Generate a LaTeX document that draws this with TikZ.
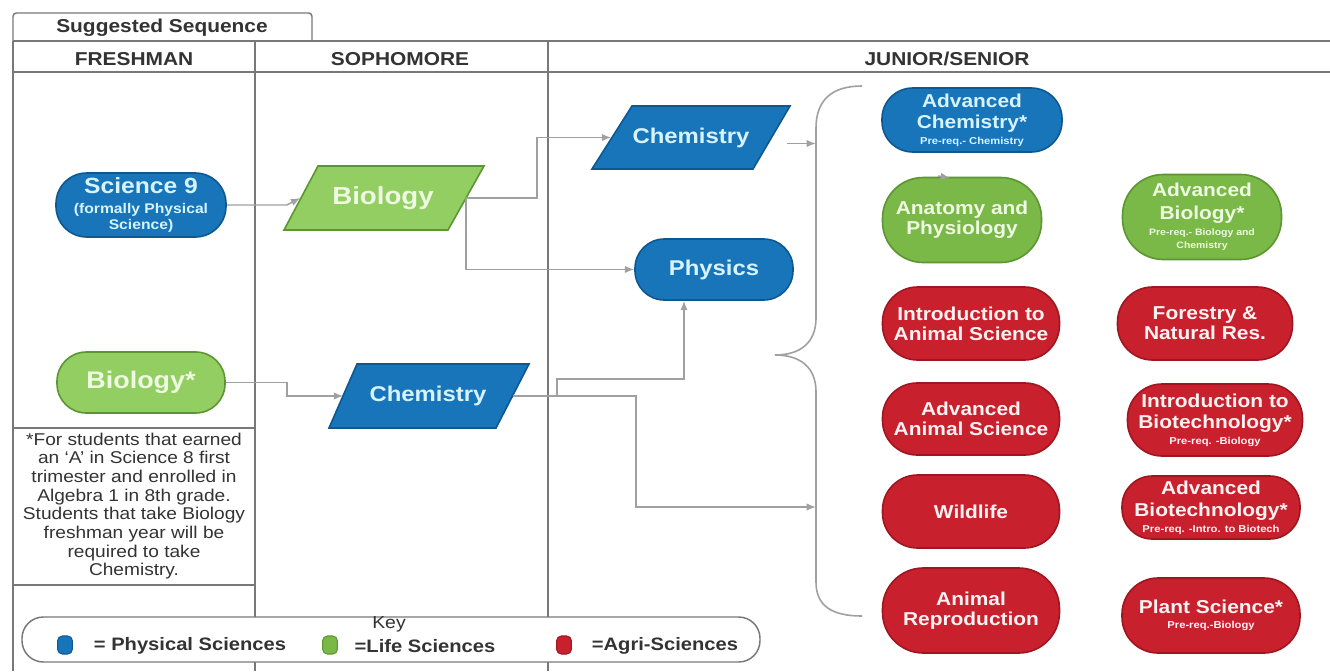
\documentclass[tikz,border=0pt]{standalone}
\usepackage{fontspec}
\setmainfont{Liberation Sans}[FakeStretch=1.12]
\usetikzlibrary{arrows.meta,calc}
\definecolor{cblue}{RGB}{24,117,186}
\definecolor{cblueD}{RGB}{14,88,146}
\definecolor{cbluetxt}{RGB}{215,243,255}
\definecolor{cgreen}{RGB}{122,184,72}
\definecolor{cgreenD}{RGB}{92,150,50}
\definecolor{clgreen}{RGB}{146,206,98}
\definecolor{cgreentxt}{RGB}{238,250,226}
\definecolor{cred}{RGB}{200,32,45}
\definecolor{credD}{RGB}{160,22,32}
\definecolor{credtxt}{RGB}{255,242,242}
\definecolor{cline}{RGB}{120,120,120}
\definecolor{cconn}{RGB}{160,160,160}
\definecolor{ctext}{RGB}{51,51,51}
\begin{document}
\begin{tikzpicture}[x=0.75pt,y=-0.75pt,
  sz/.style 2 args={minimum width=#1*0.75pt,minimum height=#2*0.75pt},
  pill/.style 2 args={draw,line width=1.2pt,inner sep=0pt,align=center,
     minimum width=#1*0.75pt,minimum height=#2*0.75pt,rounded corners=#2*0.36pt},
  bluepill/.style={fill=cblue,draw=cblueD,text=cbluetxt},
  greenpill/.style={fill=cgreen,draw=cgreenD,text=cgreentxt},
  lgreenpill/.style={fill=clgreen,draw=cgreenD,text=cgreentxt},
  redpill/.style={fill=cred,draw=credD,text=credtxt},
  pfont/.style={font=\bfseries\fontsize{14}{15}\selectfont},
  bigfont/.style={font=\bfseries\fontsize{16}{18}\selectfont},
  ptxt/.style={inner sep=0pt,align=center},
  hdr/.style={font=\bfseries\fontsize{14}{16}\selectfont,text=ctext,inner sep=0pt},
  frame/.style={draw=cline,line width=1.1pt},
  conn/.style={draw=cconn,line width=1.1pt,-{Latex[length=7pt,width=5.5pt]}},
  bracestyle/.style={draw=cconn,line width=1.2pt},
  swatch/.style={line width=0.8pt,rounded corners=3.5pt,minimum width=11pt,minimum height=13.5pt,inner sep=0pt},
  keytxt/.style={font=\bfseries\fontsize{13.5}{15}\selectfont,text=ctext,inner sep=0pt}
]
\fill[white] (0,0) rectangle (1330,671);
\useasboundingbox (0,0) rectangle (1330,671);

% ---- table frame
\draw[frame,rounded corners=2.5pt] (13,41) -- (13,13) -- (312,13) -- (312,41);
\draw[frame] (13,41) -- (1330,41);
\draw[frame] (13,72) -- (1330,72);
\draw[frame] (13,41) -- (13,671);
\draw[frame] (255,41) -- (255,671);
\draw[frame] (548,41) -- (548,671);
\draw[frame] (13,428) -- (255,428);
\draw[frame] (13,585) -- (255,585);

\node[hdr] (hs) at (162,28) {Suggested Sequence};
\node[hdr] (h1) at (134,59) {FRESHMAN};
\node[hdr] (h2) at (400,59) {SOPHOMORE};
\node[hdr] (h3) at (947,59) {JUNIOR/SENIOR};

% ---- freshman
\node[pill={170}{64},bluepill] (sci9) at (141,205)
  {{\fontsize{16.5}{18}\selectfont\bfseries Science 9}\\[3pt]
   {\fontsize{10.5}{12}\selectfont\bfseries (formally Physical}\\[-0.5pt]
   {\fontsize{10.5}{12}\selectfont\bfseries Science)}};
\node[pill={168}{61},lgreenpill,font=\bfseries\fontsize{18}{20}\selectfont] (bioS) at (141,382.5) {Biology*};

\node[align=center,inner sep=0pt,text=ctext,font=\fontsize{12.8}{14}\selectfont] (note) at (134,506)
  {*For students that earned\\an `A' in Science 8 first\\trimester and enrolled in\\Algebra 1 in 8th grade.\\Students that take Biology\\freshman year will be\\required to take\\Chemistry.};

% ---- sophomore (parallelograms)
\filldraw[fill=clgreen,draw=cgreenD,line width=1.2pt] (318,166) -- (484,166) -- (448,230) -- (284,230) -- cycle;
\node[ptxt,sz={165}{64},text=cgreentxt,font=\bfseries\fontsize{18.5}{20}\selectfont] (bio) at (383,198) {Biology};
\filldraw[fill=cblue,draw=cblueD,line width=1.2pt] (357,364) -- (529,364) -- (496,428) -- (329,428) -- cycle;
\node[ptxt,sz={169}{64},text=cbluetxt,bigfont] (chemS) at (428,396) {Chemistry};

% ---- junior/senior left
\filldraw[fill=cblue,draw=cblueD,line width=1.2pt] (632,106) -- (790,106) -- (753,169) -- (592,169) -- cycle;
\node[ptxt,sz={159}{63},text=cbluetxt,bigfont] (chemJ) at (691,137.5) {Chemistry};
\node[pill={158}{61},bluepill,bigfont] (phys) at (714,269.5) {Physics};

% ---- junior/senior courses
\node[pill={180}{64},bluepill,pfont] (advchem) at (972,120)
  {Advanced\\[1pt]Chemistry*\\[-3pt]{\fontsize{7.5}{8}\selectfont Pre-req.- Chemistry}};
\node[pill={159}{85},greenpill,pfont] (anat) at (962,220) {Anatomy and\\Physiology};
\node[pill={159}{85},greenpill,pfont] (advbio) at (1202,217)
  {Advanced\\[2pt]Biology*\\[-3pt]{\fontsize{7}{8}\selectfont Pre-req.- Biology and}\\[-5pt]{\fontsize{7}{8}\selectfont Chemistry}};
\node[pill={177}{73},redpill,pfont] (introanim) at (971,323.5) {Introduction to\\Animal Science};
\node[pill={175}{73},redpill,pfont] (forest) at (1205,323.5) {Forestry \&\\Natural Res.};
\node[pill={177}{72},redpill,pfont] (advanim) at (971,419) {Advanced\\Animal Science};
\node[pill={175}{72},redpill,pfont] (introbio) at (1215,420)
  {Introduction to\\[1pt]Biotechnology*\\[-3pt]{\fontsize{7.5}{8}\selectfont Pre-req. -Biology}};
\node[pill={177}{73},redpill,pfont] (wild) at (971,511.5) {Wildlife};
\node[pill={178}{63},redpill,pfont] (advbiot) at (1211,507.5)
  {Advanced\\[1.5pt]Biotechnology*\\[-3pt]{\fontsize{7.5}{8}\selectfont Pre-req. -Intro. to Biotech}};
\node[pill={177}{85},redpill,pfont] (anrep) at (971,610.5) {Animal\\Reproduction};
\node[pill={178}{75},redpill,pfont] (plant) at (1211,615.5)
  {Plant Science*\\[-4pt]{\fontsize{7.5}{8}\selectfont Pre-req.-Biology}};

% ---- brace
\coordinate (bt) at (816,143.5);
\coordinate (bl) at (816,507);
\draw[bracestyle] (862,86) .. controls (832,86) and (816,100) .. (816,128) -- (816,318)
  .. controls (816,343) and (800,355) .. (775,355)
  .. controls (800,355) and (816,367) .. (816,392) -- (816,582)
  .. controls (816,606) and (832,616) .. (862,616);

% ---- connectors
\draw[conn] (sci9.east) -- ++(60,0) -- (bio.west);
\draw[conn] (bio.east) -- ++(71,0) |- (chemJ.west);
\draw[conn] (bio.east) |- (phys.west);
\draw[conn] (bioS.east) -- ++(61,0) |- (chemS.west);
\coordinate (j1) at (557,379);
\draw[conn] (chemS.east) -| (j1) -| ($(phys.south)+(-30,0)$);
\draw[conn] (chemS.east) -| (636,507) -- (bl);
\draw[conn] ($(chemJ.east)+(16,6)$) -- (bt);
\coordinate (sa) at (938,176);
\draw[conn] (sa) -- ($(anat.north)+(-12,1)$);

% ---- key
\node[draw=cline,line width=1.1pt,fill=white,rounded corners=16pt,sz={738}{45}] (key) at (391,639.5) {};
\node[font=\fontsize{13}{14}\selectfont,text=ctext,inner sep=0pt] (keyt) at (389,624) {Key};
\node[swatch,fill=cblue,draw=cblueD] (s1) at (65,645) {};
\node[keytxt] (k1) at (190,646) {= Physical Sciences};
\node[swatch,fill=cgreen,draw=cgreenD] (s2) at (330,645) {};
\node[keytxt] (k2) at (425,646) {=Life Sciences};
\node[swatch,fill=cred,draw=credD] (s3) at (564,645) {};
\node[keytxt] (k3) at (665,646) {=Agri-Sciences};
\end{tikzpicture}
\end{document}
